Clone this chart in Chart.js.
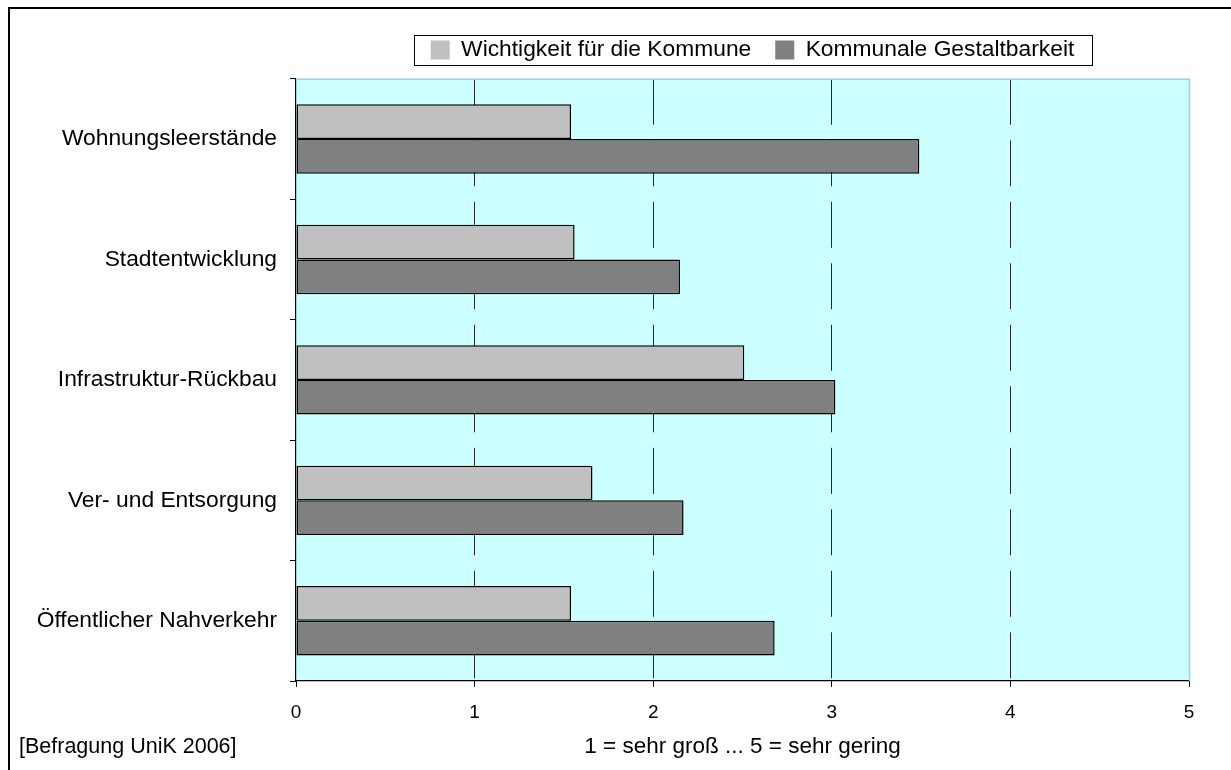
<!DOCTYPE html>
<html>
<head>
<meta charset="utf-8">
<script src="https://cdn.jsdelivr.net/npm/chart.js@4"></script>
<style>
  html, body { margin: 0; padding: 0; background: #fff; }
  #wrap { width: 1231px; height: 770px; position: relative; }
</style>
</head>
<body>
<div id="wrap"><canvas id="c" width="1231" height="770"></canvas></div>
<script>
const categories = ["Wohnungsleerstände", "Stadtentwicklung", "Infrastruktur-Rückbau", "Ver- und Entsorgung", "Öffentlicher Nahverkehr"];
const seriesNames = ["Wichtigkeit für die Kommune", "Kommunale Gestaltbarkeit"];
const wichtigkeit = [1.54, 1.56, 2.51, 1.66, 1.54];
const gestaltbarkeit = [3.49, 2.15, 3.02, 2.17, 2.68];
const xTicks = [0, 1, 2, 3, 4, 5];
const axisTitle = "1 = sehr groß ... 5 = sehr gering";
const sourceNote = "[Befragung UniK 2006]";

const FONT = '"Liberation Sans", Arial, sans-serif';

const decoPlugin = {
  id: 'deco',
  beforeDraw(chart) {
    const {ctx, chartArea: a} = chart;
    ctx.save();
    ctx.fillStyle = '#CCFFFF';
    ctx.fillRect(a.left, a.top, a.right - a.left, a.bottom - a.top);
    ctx.restore();
  },
  afterLayout(chart) {
    const lg = chart.legend;
    if (!lg) return;
    const dx = 158, dy = -7.5;
    lg.left += dx; lg.right += dx;
    lg.top += dy; lg.bottom += dy;
  },
  afterDraw(chart) {
    const {ctx, chartArea: a} = chart;
    ctx.save();
    // plot area top/right border (light blue)
    ctx.strokeStyle = '#99CCFF';
    ctx.lineWidth = 1.5;
    ctx.beginPath();
    ctx.moveTo(a.left, a.top + 0.5);
    ctx.lineTo(a.right + 0.5, a.top + 0.5);
    ctx.lineTo(a.right + 0.5, a.bottom);
    ctx.stroke();
    // outer frame (left and top)
    ctx.strokeStyle = '#000';
    ctx.lineWidth = 2;
    ctx.beginPath();
    ctx.moveTo(9, 770);
    ctx.lineTo(9, 8);
    ctx.lineTo(1231, 8);
    ctx.stroke();
    // legend frame
    const lg = chart.legend;
    if (lg && lg.legendHitBoxes && lg.legendHitBoxes.length) {
      const hb = lg.legendHitBoxes;
      const l = Math.min(...hb.map(h => h.left)) - 17;
      const r = Math.max(...hb.map(h => h.left + h.width)) + 17;
      const cy = hb[0].top + hb[0].height / 2;
      ctx.lineWidth = 1;
      ctx.strokeStyle = '#000';
      ctx.strokeRect(Math.round(l) + 0.5, Math.round(cy - 15) + 0.5, Math.round(r - l), 30);
    }
    // source note
    ctx.fillStyle = '#000';
    ctx.font = '21.5px ' + FONT;
    ctx.textBaseline = 'middle';
    ctx.textAlign = 'left';
    ctx.fillText(sourceNote, 19, 747);
    ctx.restore();
  }
};

new Chart(document.getElementById('c'), {
  type: 'bar',
  data: {
    labels: categories,
    datasets: [
      { label: seriesNames[0], data: wichtigkeit, backgroundColor: '#C0C0C0', borderColor: '#000', borderWidth: 1.5, borderSkipped: false },
      { label: seriesNames[1], data: gestaltbarkeit, backgroundColor: '#808080', borderColor: '#000', borderWidth: 1.5, borderSkipped: false }
    ]
  },
  options: {
    indexAxis: 'y',
    responsive: false,
    animation: false,
    devicePixelRatio: 1,
    datasets: { bar: { categoryPercentage: 0.576, barPercentage: 1.0 } },
    layout: { padding: { top: 22, left: 0, right: 42, bottom: 0 } },
    plugins: {
      tooltip: { enabled: false },
      legend: {
        position: 'top',
        labels: {
          font: { family: FONT, size: 22.8 },
          color: '#000',
          boxWidth: 19,
          boxHeight: 19,
          padding: 24,
          generateLabels(chart) {
            return chart.data.datasets.map((ds, i) => ({
              text: ds.label,
              fillStyle: ds.backgroundColor,
              strokeStyle: ds.backgroundColor,
              lineWidth: 0,
              datasetIndex: i,
              hidden: false
            }));
          }
        }
      }
    },
    scales: {
      x: {
        type: 'linear',
        position: 'bottom',
        min: 0, max: 5,
        afterBuildTicks(scale) { scale.ticks = xTicks.map(v => ({ value: v })); },
        afterFit(scale) { scale.height = 89; },
        ticks: {
          font: { family: FONT, size: 19 },
          color: '#000',
          padding: 14,
          maxRotation: 0
        },
        grid: {
          display: true,
          drawOnChartArea: true,
          drawTicks: true,
          tickLength: 6,
          tickColor: '#000',
          tickWidth: 1,
          tickBorderDash: [],
          lineWidth: 1,
          color: (ctx) => (ctx.tick && (ctx.tick.value === 0 || ctx.tick.value === 5)) ? 'rgba(0,0,0,0)' : '#2a2a2a'
        },
        border: { display: true, color: '#000', width: 1.2, dash: [46, 15.5] },
        title: {
          display: true,
          text: axisTitle,
          font: { family: FONT, size: 22.5 },
          color: '#000',
          padding: { top: 0, bottom: 10 }
        }
      },
      y: {
        type: 'category',
        position: 'left',
        afterFit(scale) { scale.width = 296; },
        ticks: {
          font: { family: FONT, size: 22.8 },
          color: '#000',
          padding: 13
        },
        grid: {
          display: true,
          offset: true,
          drawOnChartArea: false,
          drawTicks: true,
          tickLength: 6,
          tickColor: '#000',
          color: '#000',
          lineWidth: 1
        },
        border: { display: true, color: '#000', width: 1.2 }
      }
    }
  },
  plugins: [decoPlugin]
});
</script>
</body>
</html>
